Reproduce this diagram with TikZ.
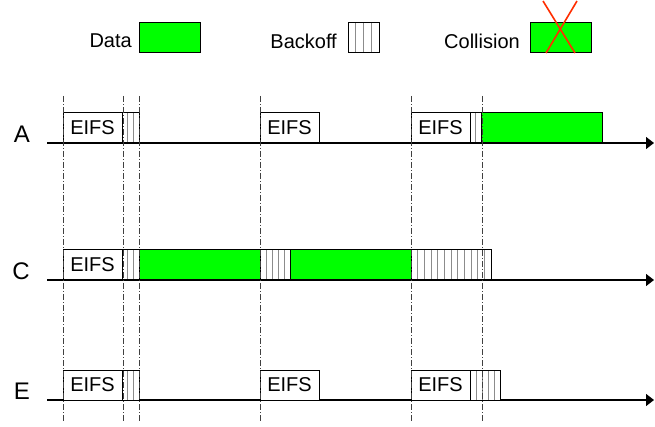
\documentclass[tikz,border=0pt]{standalone}
\usepackage{fontspec}
\setmainfont{Liberation Sans}
\usetikzlibrary{arrows.meta,positioning,calc}
\definecolor{datagreen}{RGB}{0,255,0}
\definecolor{xred}{RGB}{255,45,0}

\begin{document}
\begin{tikzpicture}[x=1pt, y=-1pt, >={Triangle[length=8pt,width=12pt]}, node distance=0pt,
	   font=\fontsize{20}{22}\selectfont,
	   box/.style={draw, line width=1pt, inner sep=0pt, outer sep=0pt, minimum height=30pt},
	   eifs/.style={box, fill=white, minimum width=59pt},
	   dat/.style={box, fill=datagreen, minimum width=#1},
	   boff/.style n args={2}{box, fill=white, minimum width=#1, path picture={
	     \foreach \k in {1,...,#2}
	       \draw[black!45, line width=0.8pt]
	         ($(path picture bounding box.south west)!\k/#2!(path picture bounding box.south east)$) --
	         ($(path picture bounding box.north west)!\k/#2!(path picture bounding box.north east)$);}},
	   txt/.style={inner sep=1pt, yshift=-3pt},
	   rowlbl/.style={inner sep=1pt, font=\fontsize{24}{26}\selectfont},
	   tl/.style={line width=1.3pt, ->},
	   dd/.style={line width=0.8pt, black!75, dash pattern=on 6pt off 2pt on 1pt off 2pt}]
	  \useasboundingbox (0,0) rectangle (655,427);
	  \node[dat=61pt, anchor=south west] (kdata) at (139,53) {};
	  \node[txt, left=6pt of kdata] (tdata) {Data};
	  \node[boff={31pt}{4}, anchor=south west] (kboff) at (348,53) {};
	  \node[txt, left=10pt of kboff] (tboff) {Backoff};
	  \node[dat=61pt, anchor=south west] (kcoll) at (530,53) {};
	  \node[txt, left=9pt of kcoll] (tcoll) {Collision};
	  \draw[xred, line width=1.6pt] (546,53) -- (577,1) (575,53) -- (543,1);
	  \coordinate (a0) at (47,143); \coordinate (aend) at (654,143);
	  \coordinate (c0) at (47,280); \coordinate (cend) at (654,280);
	  \coordinate (e0) at (47,400); \coordinate (eend) at (654,400);
	  \draw[tl] (a0) -- (aend);
	  \draw[tl] (c0) -- (cend);
	  \draw[tl] (e0) -- (eend);
	  \node[rowlbl, above left=-1pt and 16pt of a0] (la) {A};
	  \node[rowlbl, above left=-1pt and 16pt of c0] (lc) {C};
	  \node[rowlbl, above left=-1pt and 16pt of e0] (le) {E};
	  \node[eifs, anchor=south west] (a1e) at (63,143) {EIFS};
	  \node[boff={17pt}{3}, right=of a1e] (a1b) {};
	  \node[eifs, anchor=south west] (a2e) at (260,143) {EIFS};
	  \node[eifs, anchor=south west] (a3e) at (411,143) {EIFS};
	  \node[boff={11pt}{2}, right=of a3e] (a3b) {};
	  \node[dat=121pt, right=of a3b] (a3d) {};
	  \node[eifs, anchor=south west] (c1e) at (63,280) {EIFS};
	  \node[boff={17pt}{3}, right=of c1e] (c1b) {};
	  \node[dat=121pt, right=of c1b] (c1d) {};
	  \node[boff={30pt}{5}, right=of c1d] (c2b) {};
	  \node[dat=121pt, right=of c2b] (c2d) {};
	  \node[boff={80pt}{12}, right=of c2d] (c3b) {};
	  \node[eifs, anchor=south west] (e1e) at (63,400) {EIFS};
	  \node[boff={17pt}{3}, right=of e1e] (e1b) {};
	  \node[eifs, anchor=south west] (e2e) at (260,400) {EIFS};
	  \node[eifs, anchor=south west] (e3e) at (411,400) {EIFS};
	  \node[boff={30pt}{5}, right=of e3e] (e3b) {};
	  \foreach \x in {63,123,139,260,411,482}
	    \draw[dd] (\x,96) -- (\x,422);
	\end{tikzpicture}
\end{document}
